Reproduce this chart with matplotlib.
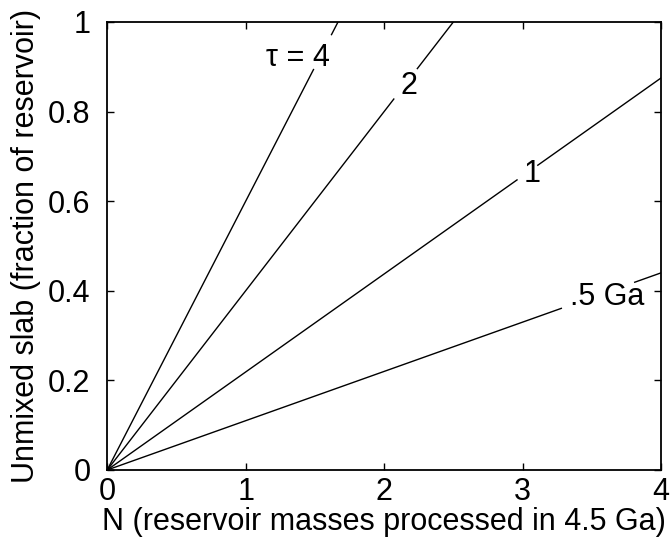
import numpy as np
import matplotlib
matplotlib.use('Agg')
import matplotlib.pyplot as plt

plt.rcParams['font.family'] = ['Liberation Sans', 'DejaVu Sans']

# each line runs from the origin to its end point; a gap is left for the label
labels = ['τ = 4', '2', '1', '.5 Ga']
end_n = [1.667, 2.5, 4.0, 4.0]
end_y = [1.0, 1.0, 0.875, 0.44]
gap_lo = [1.49, 2.07, 2.96, 3.28]
gap_hi = [1.62, 2.24, 3.11, 3.81]
label_n = [1.38, 2.18, 3.07, 3.61]
label_y = [0.92, 0.857, 0.66, 0.386]

fig = plt.figure(figsize=(6.7, 5.47), dpi=100)
ax = fig.add_axes([0.16, 0.1408, 0.8266, 0.819])

for i in range(len(labels)):
    xs = [0, end_n[i]]
    ys = [0, end_y[i]]
    x1 = np.array([0, gap_lo[i]])
    x2 = np.array([gap_hi[i], end_n[i]])
    ax.plot(x1, np.interp(x1, xs, ys), 'k-', lw=1.0)
    ax.plot(x2, np.interp(x2, xs, ys), 'k-', lw=1.0)
    ax.text(label_n[i], label_y[i], labels[i], fontsize=22, ha='center', va='center')

ax.set_xlim(0, 4)
ax.set_ylim(0, 1)
ax.set_xticks([0, 1, 2, 3, 4])
ax.set_yticks([0, 0.2, 0.4, 0.6, 0.8, 1])
ax.set_yticklabels(['0', '0.2', '0.4', '0.6', '0.8', '1'])
ax.tick_params(direction='in', top=True, right=True, length=5, width=1, labelsize=22)
ax.tick_params(axis='x', pad=5)
ax.tick_params(axis='y', pad=12)
for s in ax.spines.values():
    s.set_linewidth(1.3)
ax.set_xlabel('N (reservoir masses processed in 4.5 Ga)', fontsize=22, labelpad=0)
ax.set_ylabel('Unmixed slab (fraction of reservoir)', fontsize=22, labelpad=5)

plt.savefig('out.png', dpi=100)
